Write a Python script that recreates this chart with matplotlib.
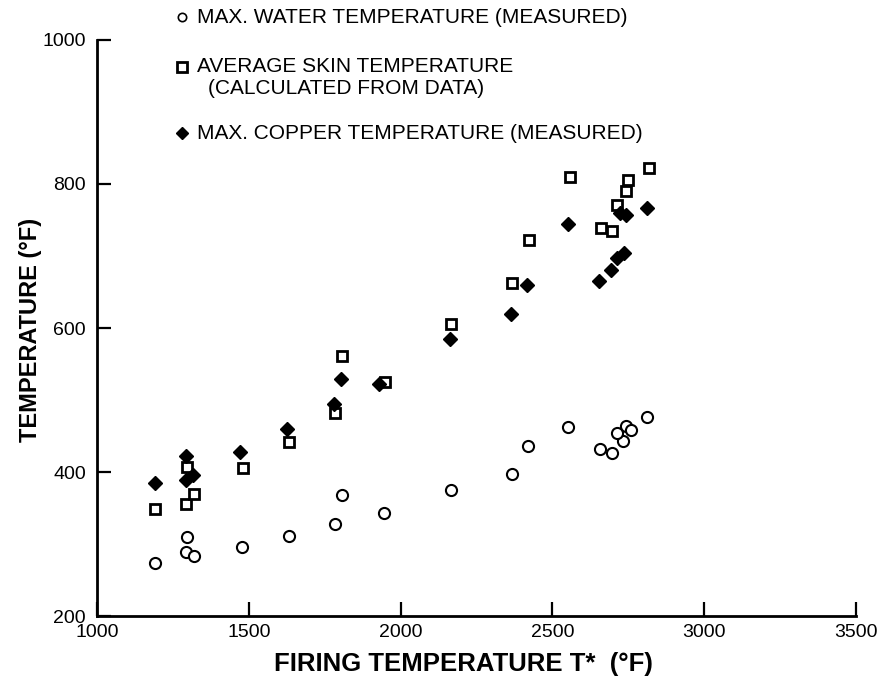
import matplotlib
matplotlib.use('Agg')
import matplotlib.pyplot as plt
from matplotlib.lines import Line2D

plt.rcParams['font.family'] = ['Liberation Sans Narrow', 'Liberation Sans', 'DejaVu Sans']

# max water temperature (measured)
water_x = [1190, 1296, 1293, 1320, 1478, 1632, 1784, 1807, 1945, 2166, 2367,
           2420, 2551, 2657, 2696, 2733, 2713, 2742, 2759, 2812]
water_y = [274, 310, 289, 283, 296, 311, 328, 368, 343, 375, 397,
           436, 462, 432, 426, 443, 454, 464, 458, 476]

# average skin temperature (calculated)
skin_x = [1190, 1293, 1320, 1296, 1481, 1632, 1784, 1807, 1949, 2166, 2367,
          2423, 2558, 2660, 2696, 2713, 2742, 2749, 2818]
skin_y = [349, 356, 369, 407, 406, 442, 482, 561, 525, 606, 662,
          722, 810, 739, 735, 771, 790, 805, 822]

# max copper temperature (measured)
copper_x = [1190, 1293, 1293, 1316, 1471, 1626, 1781, 1804, 1929, 2163, 2364,
            2416, 2551, 2653, 2693, 2713, 2736, 2723, 2742, 2812]
copper_y = [385, 422, 389, 396, 428, 460, 494, 529, 522, 585, 619,
            660, 744, 665, 681, 697, 704, 760, 757, 767]

fig = plt.figure(figsize=(8.86, 6.83), dpi=100)
ax = fig.add_axes([0.1095, 0.098, 0.8565, 0.8435])

ax.plot(water_x, water_y, 'o', mfc='white', mec='black', mew=1.5, ms=8, ls='none')
ax.plot(skin_x, skin_y, 's', mfc='white', mec='black', mew=2, ms=7, ls='none')
ax.plot(copper_x, copper_y, 'D', mfc='black', mec='black', ms=7, ls='none')

ax.set_xlim(1000, 3500)
ax.set_ylim(200, 1000)
ax.set_xticks([1000, 1500, 2000, 2500, 3000, 3500])
ax.set_yticks([200, 400, 600, 800, 1000])
ax.spines['top'].set_visible(False)
ax.spines['right'].set_visible(False)
ax.spines['left'].set_linewidth(2)
ax.spines['bottom'].set_linewidth(2)
ax.tick_params(direction='in', length=10, width=1.6, labelsize=14)
ax.tick_params(axis='x', pad=6)
ax.tick_params(axis='y', pad=8)
ax.set_xlabel('FIRING TEMPERATURE T*  (°F)', fontsize=18.5, fontweight='bold')
ax.set_ylabel('TEMPERATURE (°F)', fontsize=17, fontweight='bold')
ax.xaxis.set_label_coords(0.483, -0.0625)
ax.yaxis.set_label_coords(-0.072, 0.497)

# legend drawn by hand at the top
fig.add_artist(Line2D([0.2054], [0.975], marker='o', ms=6, mfc='white', mec='black',
                      mew=1.2, ls='none', transform=fig.transFigure))
fig.add_artist(Line2D([0.2054], [0.902], marker='s', ms=6.5, mfc='white', mec='black',
                      mew=2, ls='none', transform=fig.transFigure))
fig.add_artist(Line2D([0.2054], [0.805], marker='D', ms=6.5, mfc='black', mec='black',
                      ls='none', transform=fig.transFigure))
fig.text(0.2223, 0.975, 'MAX. WATER TEMPERATURE (MEASURED)', fontsize=15, va='center')
fig.text(0.2223, 0.902, 'AVERAGE SKIN TEMPERATURE', fontsize=15, va='center')
fig.text(0.2348, 0.870, '(CALCULATED FROM DATA)', fontsize=15, va='center')
fig.text(0.2223, 0.805, 'MAX. COPPER TEMPERATURE (MEASURED)', fontsize=15, va='center')

fig.savefig('out.png', dpi=100)
